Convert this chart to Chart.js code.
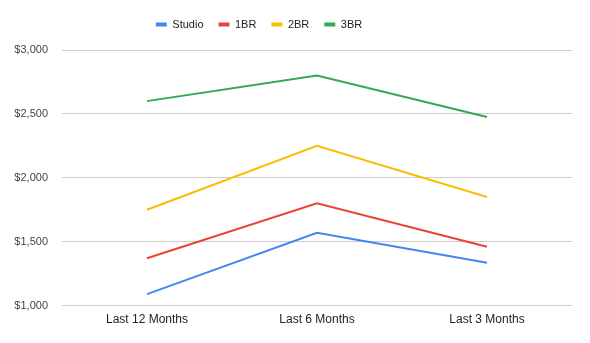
<!DOCTYPE html>
<html>
<head>
<meta charset="utf-8">
<script src="https://cdn.jsdelivr.net/npm/chart.js@4"></script>
<style>
  html, body { margin: 0; padding: 0; background: #fff; }
  #wrap { width: 590px; height: 343px; }
</style>
</head>
<body>
<div id="wrap"><canvas id="chart"></canvas></div>
<script>
// periods along the x axis
const periods = ["Last 12 Months", "Last 6 Months", "Last 3 Months"];

// average rent per unit type
const studio = [1090, 1570, 1335];
const oneBr = [1370, 1800, 1460];
const twoBr = [1750, 2250, 1850];
const threeBr = [2600, 2800, 2475];

const yTicks = [1000, 1500, 2000, 2500, 3000];

const family = "Arial, 'Liberation Sans', sans-serif";
const font12 = { family, size: 12 };
const font11 = { family, size: 11 };

function series(label, data, color) {
  return {
    label,
    data,
    borderColor: color,
    backgroundColor: color,
    borderWidth: 2,
    pointRadius: 0,
    pointHoverRadius: 0,
    tension: 0,
  };
}

// legend sits a little left of centre, with extra room beneath it
const legendTweak = {
  id: "legendTweak",
  afterInit(chart) {
    const legend = chart.legend;
    if (!legend) return;
    const fit = legend.fit;
    legend.fit = function () {
      fit.call(this);
      this.height += 10;
    };
    const draw = legend.draw;
    legend.draw = function () {
      const ctx = this.ctx;
      ctx.save();
      ctx.translate(-27, 0);
      draw.call(this);
      ctx.restore();
    };
  },
};

new Chart(document.getElementById("chart"), {
  type: "line",
  data: {
    labels: periods,
    datasets: [
      series("Studio", studio, "#4285F4"),
      series("1BR", oneBr, "#EA4335"),
      series("2BR", twoBr, "#FBBC04"),
      series("3BR", threeBr, "#34A853"),
    ],
  },
  plugins: [legendTweak],
  options: {
    responsive: true,
    maintainAspectRatio: false,
    animation: false,
    layout: { padding: { top: 4, right: 18, bottom: 9, left: 0 } },
    plugins: {
      legend: {
        position: "top",
        align: "center",
        labels: {
          font: font11,
          color: "#222",
          boxWidth: 11,
          boxHeight: 4,
          padding: 15,
          generateLabels(chart) {
            const items = Chart.defaults.plugins.legend.labels.generateLabels(chart);
            items.forEach((it) => { it.lineWidth = 0; });
            return items;
          },
        },
      },
      tooltip: { enabled: false },
    },
    scales: {
      x: {
        offset: true,
        grid: { display: false, drawTicks: false },
        border: { display: false },
        ticks: { font: font12, color: "#222", padding: 7, maxRotation: 0 },
      },
      y: {
        min: 1000,
        max: 3000,
        afterBuildTicks(scale) {
          scale.ticks = yTicks.map((v) => ({ value: v }));
        },
        afterFit(scale) { scale.width = 62; },
        grid: { color: "#cccccc", drawTicks: false },
        border: { display: false },
        ticks: {
          font: font11,
          color: "#444",
          padding: 14,
          callback: (v) => "$" + v.toLocaleString("en-US"),
        },
      },
    },
  },
});
</script>
</body>
</html>
